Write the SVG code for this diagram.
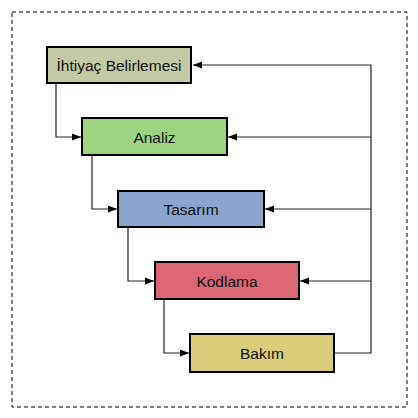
<svg xmlns="http://www.w3.org/2000/svg" width="418" height="418" viewBox="0 0 418 418">
<style>
.box{stroke:#000;stroke-width:2}
.lbl{font-family:"Liberation Sans",Arial,sans-serif;font-size:15.5px;fill:#111;text-anchor:middle;dominant-baseline:central}
.edge{fill:none;stroke:#222;stroke-width:1.2}
</style>
<defs>
<marker id="ah" markerWidth="10" markerHeight="8" refX="9" refY="4" orient="auto" markerUnits="userSpaceOnUse">
<path d="M0,0.5 L9,4 L0,7.5 Z" fill="#000"/>
</marker>
</defs>
<rect x="0" y="0" width="418" height="418" fill="#fff"/>
<rect x="12" y="12" width="395" height="395" fill="none" stroke="#000" stroke-width="1" stroke-dasharray="4,3"/>
<g id="connectors">
<path class="edge" d="M56,83 V137 H81" marker-end="url(#ah)"/>
<path class="edge" d="M92,155 V209 H117" marker-end="url(#ah)"/>
<path class="edge" d="M128,227 V281 H154" marker-end="url(#ah)"/>
<path class="edge" d="M164,299 V353 H189" marker-end="url(#ah)"/>
<path class="edge" d="M335,353 H371 V65 H193" marker-end="url(#ah)"/>
<path class="edge" d="M371,137 H228" marker-end="url(#ah)"/>
<path class="edge" d="M371,209 H265" marker-end="url(#ah)"/>
<path class="edge" d="M371,281 H300" marker-end="url(#ah)"/>
</g>
<g id="ihtiyac">
<rect class="box" x="47" y="47" width="144" height="36" fill="#c3c9a5"/>
<text class="lbl" x="119" y="65">İhtiyaç Belirlemesi</text>
</g>
<g id="analiz">
<rect class="box" x="82" y="118" width="145" height="37" fill="#9cd47f"/>
<text class="lbl" x="154.5" y="137">Analiz</text>
</g>
<g id="tasarim">
<rect class="box" x="118" y="191" width="146" height="36" fill="#8ba5cf"/>
<text class="lbl" x="191" y="209">Tasarım</text>
</g>
<g id="kodlama">
<rect class="box" x="155" y="262" width="144" height="37" fill="#da6676"/>
<text class="lbl" x="227" y="281">Kodlama</text>
</g>
<g id="bakim">
<rect class="box" x="190" y="334" width="144" height="38" fill="#d9cd7a"/>
<text class="lbl" x="262" y="353">Bakım</text>
</g>
</svg>
